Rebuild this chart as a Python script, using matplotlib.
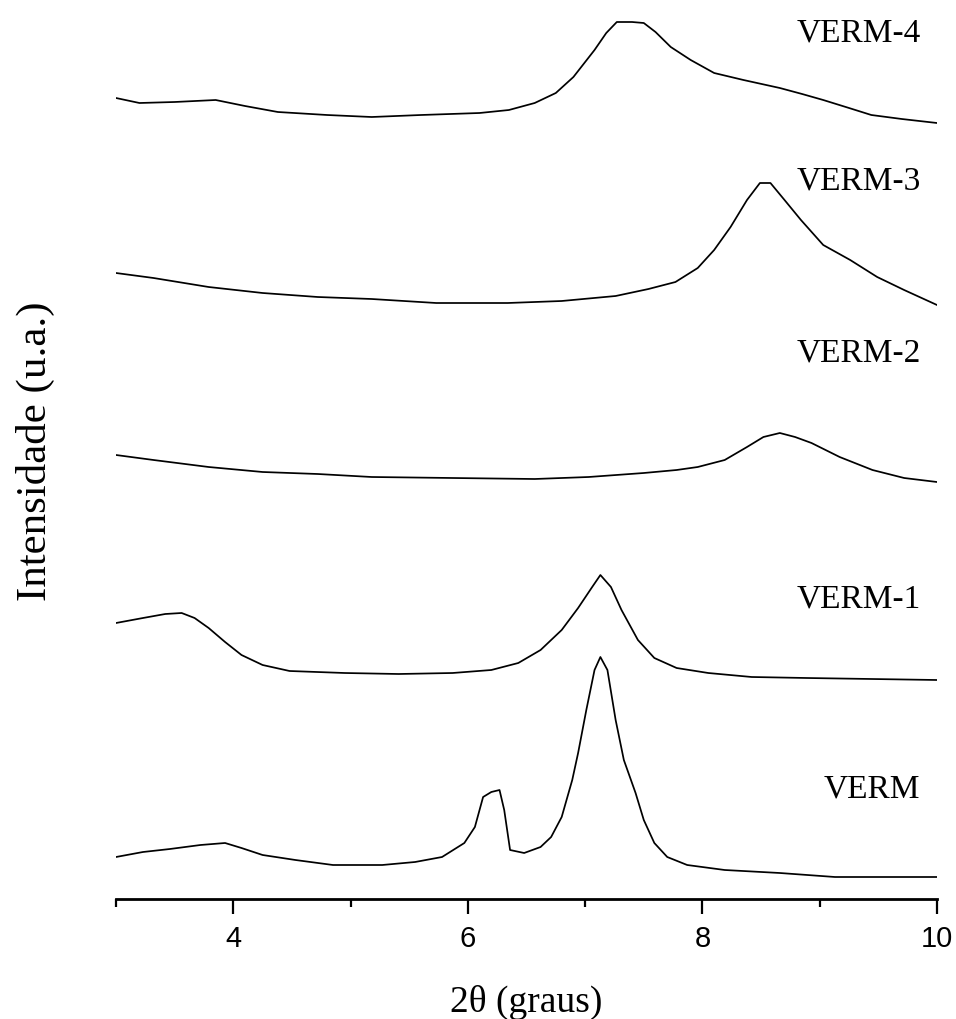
import matplotlib
matplotlib.use('Agg')
from matplotlib import pyplot as plt
from matplotlib.ticker import FixedLocator

# 2theta (graus) and stacked intensities (u.a.)
x_verm4 = [3.0, 3.2, 3.5, 3.85, 4.1, 4.38, 4.8, 5.18, 5.6, 6.1, 6.35, 6.57, 6.75, 6.9, 7.0, 7.08,
           7.18, 7.27, 7.4, 7.5, 7.6, 7.73, 7.9, 8.1, 8.35, 8.66, 8.85, 9.03, 9.25, 9.44, 9.7, 10.0]
y_verm4 = [801, 796, 797, 799, 793, 787, 784, 782, 784, 786, 789, 796, 806, 822, 837, 849,
           866, 877, 877, 876, 867, 852, 839, 826, 819, 811, 805, 799, 791, 784, 780, 776]

x_verm3 = [3.0, 3.32, 3.79, 4.25, 4.72, 5.18, 5.73, 6.34, 6.8, 7.26, 7.54, 7.77, 7.96, 8.1, 8.24,
           8.38, 8.49, 8.58, 8.7, 8.84, 9.03, 9.26, 9.49, 9.72, 10.0]
y_verm3 = [626, 621, 612, 606, 602, 600, 596, 596, 598, 603, 610, 617, 631, 649, 672,
           699, 716, 716, 699, 679, 654, 639, 622, 609, 594]

x_verm2 = [3.0, 3.32, 3.79, 4.25, 4.72, 5.18, 5.87, 6.57, 7.03, 7.5, 7.78, 7.96, 8.19, 8.38, 8.52,
           8.66, 8.79, 8.93, 9.17, 9.45, 9.72, 10.0]
y_verm2 = [444, 439, 432, 427, 425, 422, 421, 420, 422, 426, 429, 432, 439, 452, 462,
           466, 462, 456, 442, 429, 421, 417]

x_verm1 = [3.0, 3.23, 3.42, 3.56, 3.67, 3.79, 3.93, 4.07, 4.25, 4.48, 4.95, 5.41, 5.87, 6.2, 6.43,
           6.62, 6.8, 6.94, 7.06, 7.13, 7.22, 7.31, 7.45, 7.59, 7.78, 8.05, 8.42, 8.89, 10.0]
y_verm1 = [276, 281, 285, 286, 281, 271, 257, 244, 234, 228, 226, 225, 226, 229, 236,
           249, 269, 291, 312, 324, 312, 289, 259, 241, 231, 226, 222, 221, 219]

x_verm = [3.0, 3.23, 3.46, 3.72, 3.93, 4.07, 4.25, 4.53, 4.85, 5.27, 5.55, 5.78, 5.97, 6.06, 6.13,
          6.2, 6.27, 6.31, 6.36, 6.48, 6.62, 6.71, 6.8, 6.89, 6.94, 7.01, 7.08, 7.13, 7.19, 7.26,
          7.33, 7.43, 7.5, 7.59, 7.7, 7.87, 8.19, 8.66, 9.13, 9.6, 10.0]
y_verm = [42, 47, 50, 54, 56, 51, 44, 39, 34, 34, 37, 42, 56, 72, 102,
          107, 109, 89, 49, 46, 52, 62, 82, 119, 146, 189, 229, 242, 229, 179,
          139, 106, 79, 56, 42, 34, 29, 26, 22, 22, 22]

names = ['VERM-4', 'VERM-3', 'VERM-2', 'VERM-1', 'VERM']
label_y = [857, 709, 537, 292, 102]  # baseline of each sample name
major_ticks = [4, 6, 8, 10]
minor_ticks = [3, 5, 7, 9]

fig = plt.figure(figsize=(9.56, 10.19), dpi=100)
ax = fig.add_axes([116 / 956, 120 / 1019, 821 / 956, 899 / 1019])

for xs, ys in [(x_verm4, y_verm4), (x_verm3, y_verm3), (x_verm2, y_verm2),
               (x_verm1, y_verm1), (x_verm, y_verm)]:
    ax.plot(xs, ys, color='black', lw=1.25)

for name, ly in zip(names, label_y):
    ax.text(9.86, ly, name, ha='right', va='baseline', fontsize=24,
            family='Liberation Serif')

ax.set_xlim(3, 10)
ax.set_ylim(0, 899)

# only the bottom axis is drawn
for side in ['left', 'top', 'right']:
    ax.spines[side].set_visible(False)
ax.spines['bottom'].set_linewidth(2.0)
ax.set_yticks([])
ax.xaxis.set_major_locator(FixedLocator(major_ticks))
ax.xaxis.set_minor_locator(FixedLocator(minor_ticks))
ax.tick_params(axis='x', which='major', direction='out', length=11, width=1.6,
               labelsize=21, pad=8)
ax.tick_params(axis='x', which='minor', direction='out', length=6, width=1.6)
for lab in ax.get_xticklabels():
    lab.set_family('Liberation Sans')

fig.text(35 / 956, 1 - 451 / 1019, 'Intensidade (u.a.)', rotation=90, ha='center', va='center',
         fontsize=31, family='Liberation Serif')
fig.text(526 / 956, 7 / 1019, '2\u03b8 (graus)', ha='center', va='baseline',
         fontsize=27, family='Liberation Serif')

fig.savefig('out.png', dpi=100)
